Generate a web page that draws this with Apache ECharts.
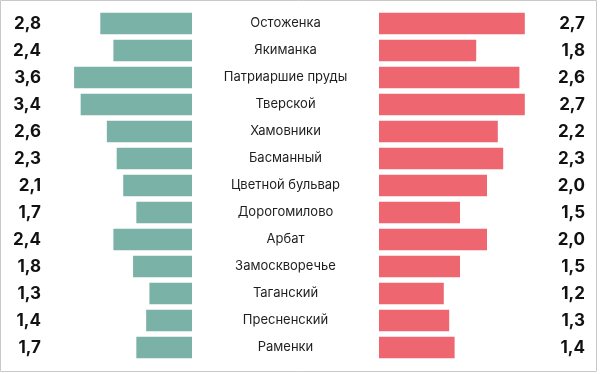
<!DOCTYPE html>
<html><head><meta charset="utf-8">
<script src="https://cdn.jsdelivr.net/npm/echarts@6/dist/echarts.min.js"></script>
<style>html,body{margin:0;padding:0;background:#fff}#c{width:600px;height:374px}</style>
</head><body><div id="c"></div>
<script>
const categories = ['Остоженка','Якиманка','Патриаршие пруды','Тверской','Хамовники','Басманный','Цветной бульвар','Дорогомилово','Арбат','Замоскворечье','Таганский','Пресненский','Раменки'];
const leftValues = [2.8,2.4,3.6,3.4,2.6,2.3,2.1,1.7,2.4,1.8,1.3,1.4,1.7];
const rightValues = [2.7,1.8,2.6,2.7,2.2,2.3,2.0,1.5,2.0,1.5,1.2,1.3,1.4];

const fmt = v => v.toFixed(1).replace('.', ',');
const chart = echarts.init(document.getElementById('c'));
const gridTop = 10, gridBottom = 13;
chart.setOption({
  animation: false,
  graphic: [{type:'rect', shape:{x:0.5,y:0.5,width:596,height:371}, style:{fill:null, stroke:'#c9c9c9', lineWidth:1}, z:-1}],
  grid: [
    {left: 61, width: 131, top: gridTop, bottom: gridBottom},
    {left: 379, width: 162, top: gridTop, bottom: gridBottom}
  ],
  xAxis: [
    {gridIndex:0, type:'value', min:0, max:4, inverse:true, show:false},
    {gridIndex:1, type:'value', min:0, max:3, show:false}
  ],
  yAxis: [
    {gridIndex:0, type:'category', data:categories, inverse:true, position:'left',
     axisLine:{show:false}, axisTick:{show:false},
     axisLabel:{margin:20, align:'right', fontFamily:'Inter', fontWeight:'bold', fontSize:17, color:'#111',
       formatter:(v, i)=>fmt(leftValues[i])}},
    {gridIndex:1, type:'category', data:categories, inverse:true, position:'left',
     axisLine:{show:false}, axisTick:{show:false},
     axisLabel:{margin:93.5, align:'center', fontFamily:'Inter', fontSize:13, color:'#1e1e1e'}},
    {gridIndex:1, type:'category', data:categories, inverse:true, position:'right',
     axisLine:{show:false}, axisTick:{show:false},
     axisLabel:{margin:44, align:'right', fontFamily:'Inter', fontWeight:'bold', fontSize:17, color:'#111',
       formatter:(v, i)=>fmt(rightValues[i])}}
  ],
  series: [
    {type:'bar', xAxisIndex:0, yAxisIndex:0, data:leftValues, barCategoryGap:'20%', itemStyle:{color:'#7ab2a7'}},
    {type:'bar', xAxisIndex:1, yAxisIndex:1, data:rightValues, barCategoryGap:'20%', itemStyle:{color:'#ee6670'}}
  ]
});
</script></body></html>
